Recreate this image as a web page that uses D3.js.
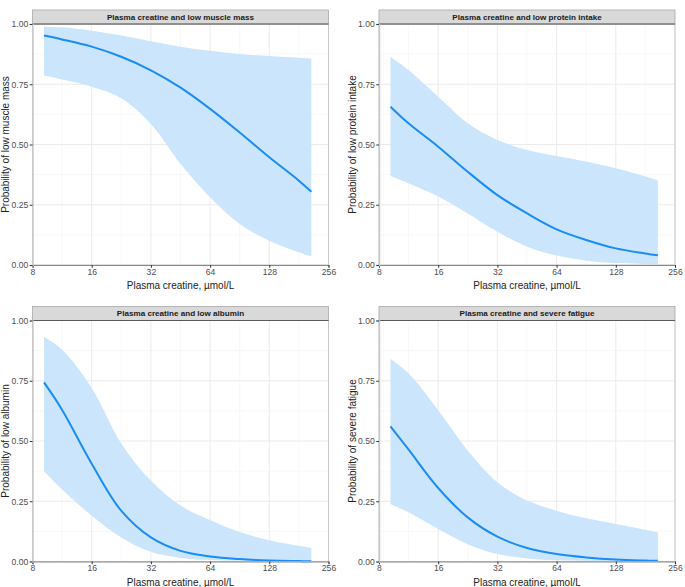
<!DOCTYPE html>
<html>
<head>
<meta charset="utf-8">
<script src="https://cdn.jsdelivr.net/npm/d3@7"></script>
<style>
  body { margin: 0; background: #fff; }
  svg { display: block; font-family: "Liberation Sans", Arial, sans-serif; }
</style>
</head>
<body>
<svg id="chart" width="685" height="587"></svg>
<script>
// ---- Data ----
const xValues = [9.15, 11.3, 16, 22.6, 32, 45.3, 64, 90.5, 128, 181, 209.5];

const titles = [
  "Plasma creatine and low muscle mass",
  "Plasma creatine and low protein intake",
  "Plasma creatine and low albumin",
  "Plasma creatine and severe fatigue"
];
const yTitles = [
  "Probability of low muscle mass",
  "Probability of low protein intake",
  "Probability of low albumin",
  "Probability of severe fatigue"
];

const fitMuscle   = [0.952, 0.936, 0.906, 0.864, 0.808, 0.736, 0.648, 0.550, 0.447, 0.350, 0.304];
const upperMuscle = [0.989, 0.986, 0.972, 0.952, 0.928, 0.906, 0.889, 0.876, 0.867, 0.860, 0.856];
const lowerMuscle = [0.786, 0.770, 0.740, 0.692, 0.585, 0.419, 0.281, 0.170, 0.101, 0.053, 0.036];

const fitProtein   = [0.657, 0.588, 0.491, 0.387, 0.290, 0.214, 0.148, 0.104, 0.069, 0.048, 0.040];
const upperProtein = [0.864, 0.809, 0.698, 0.588, 0.519, 0.477, 0.452, 0.429, 0.401, 0.367, 0.351];
const lowerProtein = [0.369, 0.339, 0.284, 0.214, 0.138, 0.076, 0.039, 0.018, 0.008, 0.004, 0.003];

const fitAlbumin   = [0.743, 0.630, 0.406, 0.211, 0.100, 0.044, 0.021, 0.010, 0.004, 0.0017, 0.001];
const upperAlbumin = [0.933, 0.880, 0.720, 0.490, 0.335, 0.232, 0.172, 0.122, 0.088, 0.065, 0.056];
const lowerAlbumin = [0.375, 0.300, 0.190, 0.100, 0.040, 0.015, 0.006, 0.003, 0.001, 0.001, 0.001];

const fitFatigue   = [0.561, 0.465, 0.305, 0.183, 0.103, 0.056, 0.031, 0.017, 0.008, 0.004, 0.003];
const upperFatigue = [0.840, 0.781, 0.628, 0.461, 0.329, 0.253, 0.211, 0.179, 0.156, 0.132, 0.121];
const lowerFatigue = [0.239, 0.204, 0.135, 0.072, 0.031, 0.0125, 0.005, 0.003, 0.001, 0.001, 0.001];

const xTicks = [8, 16, 32, 64, 128, 256];
const yTicks = [0, 0.25, 0.5, 0.75, 1];
const xLabel = "Plasma creatine, \u00b5mol/L";

const series = [
  { fit: fitMuscle,  lo: lowerMuscle,  hi: upperMuscle },
  { fit: fitProtein, lo: lowerProtein, hi: upperProtein },
  { fit: fitAlbumin, lo: lowerAlbumin, hi: upperAlbumin },
  { fit: fitFatigue, lo: lowerFatigue, hi: upperFatigue }
];

// ---- Layout ----
const colLeft = [32.5, 379];
const panelW = 296;
const rowTop = [24, 320.5];
const panelH = 241;
const stripH = 14;

const svg = d3.select("#chart");
const smooth = d3.curveCatmullRom.alpha(0.5);

series.forEach((s, i) => {
  const col = i % 2, row = Math.floor(i / 2);
  const L = colLeft[col], T = rowTop[row];
  const x = d3.scaleLog().base(2).domain([8, 256]).range([L, L + panelW]);
  const y = d3.scaleLinear().domain([0, 1]).range([T + panelH, T]);
  const g = svg.append("g");

  // minor gridlines
  const xMinor = xTicks.slice(0, -1).map(v => v * Math.SQRT2);
  const yMinor = [0.125, 0.375, 0.625, 0.875];
  g.selectAll(".xm").data(xMinor).enter().append("line")
    .attr("x1", d => x(d)).attr("x2", d => x(d))
    .attr("y1", T).attr("y2", T + panelH)
    .attr("stroke", "#f4f4f4").attr("stroke-width", 0.6);
  g.selectAll(".ym").data(yMinor).enter().append("line")
    .attr("x1", L).attr("x2", L + panelW)
    .attr("y1", d => y(d)).attr("y2", d => y(d))
    .attr("stroke", "#f4f4f4").attr("stroke-width", 0.6);
  // major gridlines
  g.selectAll(".xM").data(xTicks).enter().append("line")
    .attr("x1", d => x(d)).attr("x2", d => x(d))
    .attr("y1", T).attr("y2", T + panelH)
    .attr("stroke", "#ebebeb").attr("stroke-width", 1);
  g.selectAll(".yM").data(yTicks).enter().append("line")
    .attr("x1", L).attr("x2", L + panelW)
    .attr("y1", d => y(d)).attr("y2", d => y(d))
    .attr("stroke", "#ebebeb").attr("stroke-width", 1);

  const pts = xValues.map((xv, k) => ({ x: xv, f: s.fit[k], lo: s.lo[k], hi: s.hi[k] }));

  const area = d3.area()
    .x(d => x(d.x)).y0(d => y(d.lo)).y1(d => y(d.hi))
    .curve(smooth);
  g.append("path").datum(pts).attr("d", area)
    .attr("fill", "#cbe6fc");

  const line = d3.line().x(d => x(d.x)).y(d => y(d.f)).curve(smooth);
  g.append("path").datum(pts).attr("d", line)
    .attr("fill", "none").attr("stroke", "#1a8cf5").attr("stroke-width", 2);

  // panel border
  g.append("rect").attr("x", L).attr("y", T).attr("width", panelW).attr("height", panelH)
    .attr("fill", "none").attr("stroke", "#c8c8c8").attr("stroke-width", 1);

  // strip
  g.append("rect").attr("x", L).attr("y", T - stripH).attr("width", panelW).attr("height", stripH)
    .attr("fill", "#d9d9d9").attr("stroke", "#a8a8a8").attr("stroke-width", 0.8);
  g.append("line").attr("x1", L).attr("x2", L + panelW).attr("y1", T).attr("y2", T)
    .attr("stroke", "#5a5a5a").attr("stroke-width", 1.2);
  g.append("text").attr("x", L + panelW / 2).attr("y", T - stripH / 2)
    .attr("text-anchor", "middle").attr("dominant-baseline", "central")
    .attr("font-size", 8.1).attr("font-weight", "bold").attr("fill", "#1a1a1a")
    .text(titles[i]);

  // axes
  const xAxis = d3.axisBottom(x).tickValues(xTicks).tickFormat(d3.format("d"))
    .tickSize(2.75).tickPadding(1);
  const ax = g.append("g").attr("transform", `translate(0,${T + panelH})`).call(xAxis);
  ax.select(".domain").attr("stroke", "#888").attr("stroke-width", 1);
  ax.selectAll(".tick line").attr("stroke", "#333");
  ax.selectAll("text").attr("font-size", 8.6).attr("fill", "#4d4d4d")
    .attr("font-family", "Liberation Sans, Arial, sans-serif");

  const yAxis = d3.axisLeft(y).tickValues(yTicks).tickFormat(d3.format(".2f"))
    .tickSize(2.75).tickPadding(1.5);
  const ay = g.append("g").attr("transform", `translate(${L},0)`).call(yAxis);
  ay.select(".domain").attr("stroke", "#c8c8c8").attr("stroke-width", 1.4);
  ay.selectAll(".tick line").attr("stroke", "#333");
  ay.selectAll("text").attr("font-size", 8.6).attr("fill", "#4d4d4d")
    .attr("font-family", "Liberation Sans, Arial, sans-serif");

  // axis titles
  g.append("text").attr("x", L + panelW / 2).attr("y", T + panelH + 20.5)
    .attr("text-anchor", "middle").attr("dominant-baseline", "central")
    .attr("font-size", 10).attr("fill", "#222").text(xLabel);
  g.append("text")
    .attr("transform", `translate(${L - 27},${T + panelH / 2}) rotate(-90)`)
    .attr("text-anchor", "middle").attr("dominant-baseline", "central")
    .attr("font-size", 10).attr("fill", "#222").text(yTitles[i]);
});
</script>
</body>
</html>
